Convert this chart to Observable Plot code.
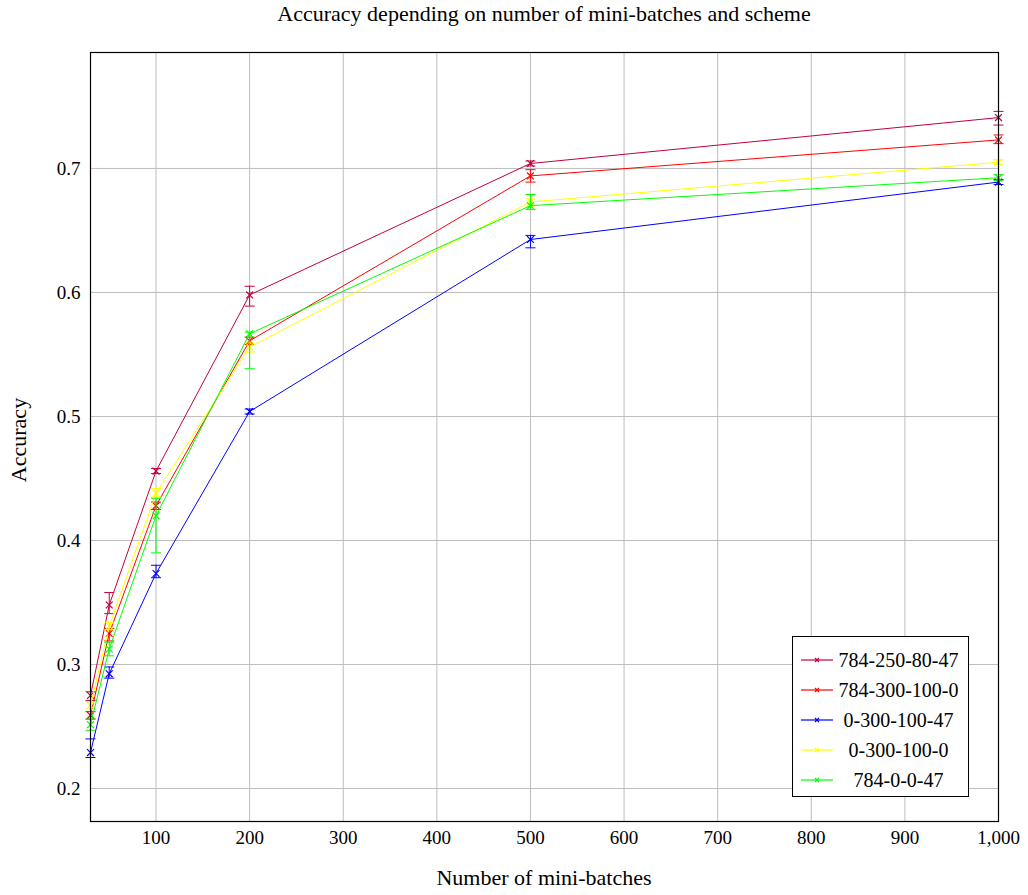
<!DOCTYPE html>
<html><head><meta charset="utf-8">
<script src="https://cdn.jsdelivr.net/npm/d3@7"></script>
<script src="https://cdn.jsdelivr.net/npm/@observablehq/plot@0.6"></script>
<style>
body{margin:0;background:#fff;font-family:"Liberation Serif",serif;color:#000}
#wrap{position:relative;width:1028px;height:895px;overflow:hidden}
#title{position:absolute;left:90px;width:908px;top:1px;text-align:center;font-size:22px;line-height:26px}
#chart{position:absolute;left:0;top:28px}
#chart svg text{font-family:"Liberation Serif",serif}
#xlabel{position:absolute;left:90px;width:908px;top:865px;text-align:center;font-size:22px;line-height:26px}
#ylabel{position:absolute;left:19px;top:440px;transform:translate(-50%,-50%) rotate(-90deg);font-size:22px;line-height:26px;white-space:nowrap}
#legend{position:absolute;left:792px;top:636px;width:177px;height:161px;border:1px solid #000;background:#fff;box-sizing:border-box}
.row{position:absolute;left:0;width:177px;height:30px;display:flex;align-items:center}
.row svg{margin-left:8px;flex:none}
.row span{flex:1;text-align:center;font-size:20px;margin-right:6px}
</style></head>
<body>
<div id="wrap">
  <div id="title">Accuracy depending on number of mini-batches and scheme</div>
  <div id="chart"></div>
  <div id="xlabel">Number of mini-batches</div>
  <div id="ylabel">Accuracy</div>
  <div id="legend"></div>
</div>
<script>
const miniBatches = [30, 50, 100, 200, 500, 1000];
const schemes = ["784-250-80-47", "784-300-100-0", "0-300-100-47", "0-300-100-0", "784-0-0-47"];
const colors = ["#c2003d", "#ff0000", "#0000ff", "#ffff00", "#00ff00"];

const acc_784_250_80_47 = [0.275, 0.348, 0.456, 0.598, 0.704, 0.741];
const lo_784_250_80_47  = [0.271, 0.341, 0.454, 0.589, 0.702, 0.735];
const hi_784_250_80_47  = [0.278, 0.358, 0.458, 0.605, 0.706, 0.746];

const acc_784_300_100_0 = [0.259, 0.325, 0.428, 0.561, 0.694, 0.723];
const lo_784_300_100_0  = [0.256, 0.319, 0.425, 0.558, 0.689, 0.720];
const hi_784_300_100_0  = [0.262, 0.329, 0.431, 0.564, 0.699, 0.727];

const acc_0_300_100_47 = [0.229, 0.2925, 0.3734, 0.504, 0.6427, 0.689];
const lo_0_300_100_47  = [0.225, 0.289, 0.370, 0.502, 0.636, 0.687];
const hi_0_300_100_47  = [0.240, 0.298, 0.380, 0.506, 0.646, 0.691];

const acc_0_300_100_0 = [0.267, 0.331, 0.438, 0.556, 0.673, 0.705];
const lo_0_300_100_0  = [0.264, 0.328, 0.435, 0.552, 0.669, 0.703];
const hi_0_300_100_0  = [0.270, 0.334, 0.442, 0.560, 0.676, 0.707];

const acc_784_0_0_47 = [0.2515, 0.3125, 0.420, 0.5667, 0.670, 0.6925];
const lo_784_0_0_47  = [0.247, 0.307, 0.390, 0.5385, 0.667, 0.690];
const hi_784_0_0_47  = [0.256, 0.318, 0.434, 0.568, 0.679, 0.695];

const xTicks = [100, 200, 300, 400, 500, 600, 700, 800, 900, 1000];
const yTicks = [0.2, 0.3, 0.4, 0.5, 0.6, 0.7];

const seriesVals = [
  [acc_784_250_80_47, lo_784_250_80_47, hi_784_250_80_47],
  [acc_784_300_100_0, lo_784_300_100_0, hi_784_300_100_0],
  [acc_0_300_100_47, lo_0_300_100_47, hi_0_300_100_47],
  [acc_0_300_100_0, lo_0_300_100_0, hi_0_300_100_0],
  [acc_784_0_0_47, lo_784_0_0_47, hi_784_0_0_47]
];

const capSymbol = {
  draw(ctx, size) {
    const r = Math.sqrt(size / Math.PI);
    ctx.moveTo(-r, 0); ctx.lineTo(r, 0);
  }
};

const marks = [
  Plot.gridX(xTicks, {stroke: "#bdbdbd", strokeOpacity: 1, strokeWidth: 1}),
  Plot.gridY(yTicks, {stroke: "#bdbdbd", strokeOpacity: 1, strokeWidth: 1}),
];

schemes.forEach((s, i) => {
  const [acc, lo, hi] = seriesVals[i];
  const rows = miniBatches.map((x, j) => ({x, y: acc[j], lo: lo[j], hi: hi[j], s}));
  const c = colors[i];
  marks.push(
    Plot.ruleX(rows, {x: "x", y1: "lo", y2: "hi", stroke: c, strokeWidth: 1}),
    Plot.dot(rows, {x: "x", y: "lo", symbol: capSymbol, r: 5, stroke: c, strokeWidth: 1}),
    Plot.dot(rows, {x: "x", y: "hi", symbol: capSymbol, r: 5, stroke: c, strokeWidth: 1}),
    Plot.line(rows, {x: "x", y: "y", stroke: c, strokeWidth: 1}),
    Plot.dot(rows, {x: "x", y: "y", symbol: "times", r: 3.2, stroke: c, strokeWidth: 1.2})
  );
});

marks.push(
  Plot.frame({stroke: "#000", strokeWidth: 1.2}),
  Plot.axisX(xTicks, {tickSize: 0, tickPadding: 9, tickFormat: d3.format(","), fontSize: 19, fontFamily: "Liberation Serif", label: null}),
  Plot.axisY(yTicks, {tickSize: 0, tickPadding: 10, tickFormat: d3.format(".1f"), fontSize: 19, fontFamily: "Liberation Serif", label: null})
);

const chart = Plot.plot({
  width: 1028,
  height: 867,
  marginLeft: 90,
  marginRight: 30,
  marginTop: 24,
  marginBottom: 74,
  style: {fontFamily: "Liberation Serif, serif", fontSize: "19px", background: "#fff", color: "#000"},
  x: {domain: [30, 1000]},
  y: {domain: [0.1734, 0.7935]},
  marks
});
document.getElementById("chart").appendChild(chart);

// legend
const legend = document.getElementById("legend");
schemes.forEach((s, i) => {
  const row = document.createElement("div");
  row.className = "row";
  row.style.top = (8 + i * 30) + "px";
  row.innerHTML = `<svg width="32" height="10"><line x1="0" y1="5" x2="32" y2="5" stroke="${colors[i]}" stroke-width="1.2"/><path d="M14 3 L18 7 M18 3 L14 7" stroke="${colors[i]}" stroke-width="1.2"/></svg><span>${s}</span>`;
  legend.appendChild(row);
});
</script>
</body></html>
